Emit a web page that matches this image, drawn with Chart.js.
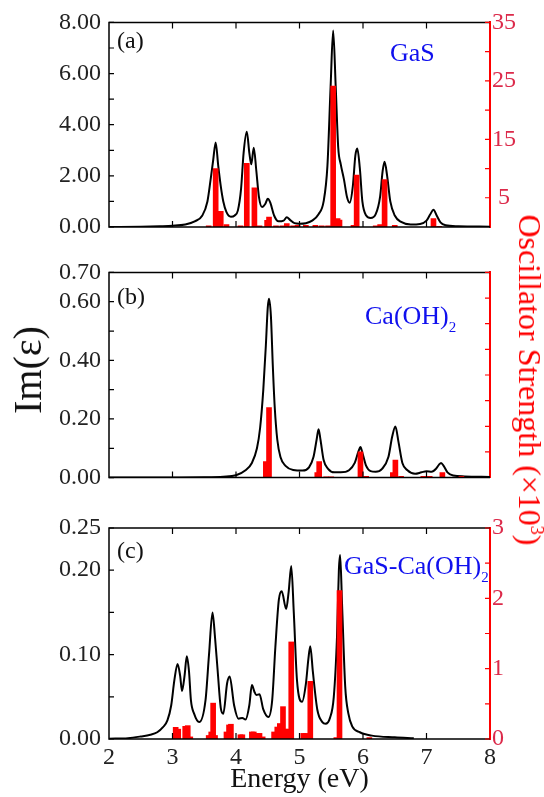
<!DOCTYPE html>
<html>
<head>
<meta charset="utf-8">
<script src="https://cdn.jsdelivr.net/npm/chart.js@4.4.1/dist/chart.umd.min.js"></script>
<style>
  html, body { margin: 0; padding: 0; background: #fff; }
  #wrap { position: relative; width: 544px; height: 797px; font-family: 'Liberation Serif', 'Times New Roman', serif; }
  canvas { position: absolute; left: 0; }
  .lbl { position: absolute; white-space: nowrap; line-height: 1; }
  .sub { font-size: 15px; position: relative; top: 8px; }
</style>
</head>
<body>
<div id="wrap">
  <canvas id="chartA" width="544" height="250" style="top:0"></canvas>
  <canvas id="chartB" width="544" height="250" style="top:250px"></canvas>
  <canvas id="chartC" width="544" height="297" style="top:500px"></canvas>

  <div class="lbl" style="left:117px; top:28px; font-size:24px; color:#111">(a)</div>
  <div class="lbl" style="left:117px; top:284px; font-size:24px; color:#111">(b)</div>
  <div class="lbl" style="left:117px; top:538px; font-size:24px; color:#111">(c)</div>

  <div class="lbl" style="left:390px; top:40px; font-size:26px; color:#1010ee">GaS</div>
  <div class="lbl" style="left:365px; top:303px; font-size:26px; color:#1010ee">Ca(OH)<span class="sub">2</span></div>
  <div class="lbl" style="left:344px; top:553px; font-size:26px; color:#1010ee">GaS-Ca(OH)<span class="sub">2</span></div>

  <div class="lbl" style="left:28px; top:370px; font-size:40px; color:#111; transform: translate(-50%, -50%) rotate(-90deg)">Im(ε)</div>
  <div class="lbl" style="left:530px; top:380px; font-size:32px; color:#ff0000; transform: translate(-50%, -50%) rotate(90deg)">Oscillator Strength (×10<sup style="font-size:18px">3</sup>)</div>
</div>

<script>
// panel (a) GaS
const energyA = [2.0, 2.5, 2.8, 3.0, 3.2, 3.35, 3.47, 3.55, 3.6, 3.64, 3.68, 3.72, 3.76, 3.8, 3.85, 3.92, 3.98, 4.03, 4.08, 4.12,
  4.17, 4.21, 4.24, 4.28, 4.32, 4.36, 4.41, 4.46, 4.5, 4.54, 4.6, 4.67, 4.75, 4.8, 4.85, 4.92, 5.0, 5.1, 5.2, 5.3,
  5.38, 5.44, 5.49, 5.53, 5.57, 5.61, 5.65, 5.7, 5.75, 5.79, 5.84, 5.88, 5.91, 5.95, 5.99, 6.05, 6.12, 6.2, 6.27, 6.31,
  6.34, 6.38, 6.43, 6.5, 6.6, 6.75, 6.9, 7.0, 7.06, 7.11, 7.16, 7.22, 7.3, 7.5, 8.0];
const imA = [0.0, 0.01, 0.03, 0.05, 0.1, 0.22, 0.45, 1.0, 1.85, 2.6, 3.3, 2.4, 1.6, 1.0, 0.58, 0.4, 0.45, 0.65, 1.5, 2.9,
  3.72, 2.9, 2.45, 3.1, 2.2, 1.2, 0.78, 0.9, 1.1, 0.95, 0.45, 0.22, 0.25, 0.38, 0.28, 0.15, 0.13, 0.15, 0.25, 0.5,
  1.0, 2.4, 5.5, 7.68, 5.5, 3.1, 2.45, 1.86, 1.15, 0.95, 1.6, 2.8, 3.07, 2.3, 1.0, 0.45, 0.35, 0.5, 1.2, 2.2,
  2.55, 2.0, 1.0, 0.45, 0.2, 0.1, 0.12, 0.25, 0.5, 0.67, 0.45, 0.18, 0.07, 0.03, 0.01];
const barEA = [3.57, 3.68, 3.76, 3.85, 4.07, 4.17, 4.29, 4.37, 4.49, 4.52, 4.63, 4.73, 4.8, 4.9, 4.97, 5.1, 5.25, 5.35, 5.45,
  5.53, 5.6, 5.63, 5.85, 5.9, 6.2, 6.27, 6.34, 6.5, 7.11, 7.2];
const oscA = [0.2, 10.0, 2.7, 0.4, 0.2, 10.9, 6.7, 0.2, 1.15, 1.7, 0.2, 0.2, 0.6, 0.2, 0.3, 0.3, 0.3, 0.2, 0.2,
  24.1, 1.45, 1.2, 0.3, 8.9, 0.2, 0.4, 8.1, 0.3, 1.45, 0.1];

// panel (b) Ca(OH)2
const energyB = [2.0, 3.0, 3.5, 3.8, 4.0, 4.15, 4.25, 4.33, 4.38, 4.43, 4.47, 4.5, 4.52, 4.55, 4.58, 4.61, 4.65, 4.7, 4.78, 4.9,
  5.05, 5.15, 5.22, 5.27, 5.3, 5.33, 5.38, 5.45, 5.55, 5.65, 5.78, 5.87, 5.93, 5.96, 5.99, 6.05, 6.12, 6.2, 6.3, 6.4,
  6.46, 6.51, 6.56, 6.62, 6.7, 6.82, 6.92, 7.0, 7.08, 7.15, 7.2, 7.23, 7.27, 7.33, 7.42, 7.6, 8.0];
const imB = [0.0, 0.0005, 0.001, 0.003, 0.008, 0.025, 0.05, 0.1, 0.17, 0.3, 0.45, 0.58, 0.61, 0.55, 0.38, 0.24, 0.13, 0.07, 0.04, 0.026,
  0.024, 0.035, 0.07, 0.13, 0.165, 0.13, 0.06, 0.03, 0.018, 0.018, 0.025, 0.05, 0.09, 0.104, 0.085, 0.04, 0.022, 0.02, 0.03, 0.07,
  0.14, 0.174, 0.12, 0.05, 0.025, 0.013, 0.018, 0.022, 0.02, 0.03, 0.045, 0.05, 0.04, 0.018, 0.007, 0.004, 0.002];
const barEB = [4.47, 4.52, 5.28, 5.31, 5.42, 5.5, 5.96, 6.05, 6.47, 6.51, 6.6, 6.95, 7.05, 7.25, 7.55];
const oscB = [0.62, 2.73, 0.2, 0.62, 0.03, 0.03, 1.0, 0.05, 0.2, 0.68, 0.05, 0.05, 0.05, 0.2, 0.05];

// panel (c) GaS-Ca(OH)2
const energyC = [2.0, 2.3, 2.5, 2.65, 2.76, 2.85, 2.92, 2.98, 3.03, 3.08, 3.12, 3.15, 3.19, 3.225, 3.26, 3.29, 3.34, 3.42, 3.52, 3.575,
  3.63, 3.67, 3.71, 3.76, 3.8, 3.86, 3.9, 3.97, 4.04, 4.1, 4.15, 4.21, 4.25, 4.29, 4.32, 4.37, 4.43, 4.51, 4.57, 4.62,
  4.675, 4.72, 4.79, 4.83, 4.87, 4.91, 4.96, 5.04, 5.1, 5.14, 5.17, 5.21, 5.28, 5.36, 5.41, 5.48, 5.54, 5.59, 5.62, 5.64,
  5.67, 5.72, 5.77, 5.83, 5.95, 6.14, 6.5, 6.8];
const imC = [0.0003, 0.001, 0.003, 0.005, 0.008, 0.014, 0.022, 0.04, 0.07, 0.089, 0.075, 0.057, 0.075, 0.098, 0.08, 0.046, 0.03, 0.02, 0.046, 0.1,
  0.15, 0.12, 0.082, 0.037, 0.03, 0.066, 0.074, 0.04, 0.024, 0.025, 0.023, 0.04, 0.064, 0.056, 0.052, 0.053, 0.035, 0.026, 0.046, 0.109,
  0.165, 0.175, 0.154, 0.175, 0.205, 0.15, 0.07, 0.044, 0.065, 0.095, 0.11, 0.08, 0.035, 0.02, 0.018, 0.025, 0.05, 0.12, 0.2, 0.218,
  0.16, 0.062, 0.03, 0.015, 0.008, 0.004, 0.002, 0.001];
const barEC = [3.05, 3.09, 3.2, 3.24, 3.28, 3.57, 3.61, 3.64, 3.67, 3.85, 3.89, 3.92, 4.07, 4.1, 4.25, 4.28, 4.33, 4.37, 4.42,
  4.6, 4.65, 4.69, 4.74, 4.78, 4.82, 4.87, 5.06, 5.1, 5.17, 5.58, 5.63, 6.1];
const oscC = [0.166, 0.14, 0.18, 0.19, 0.03, 0.05, 0.1, 0.51, 0.05, 0.1, 0.2, 0.21, 0.06, 0.06, 0.1, 0.1, 0.08, 0.08, 0.03,
  0.1, 0.17, 0.22, 0.46, 0.14, 0.14, 1.38, 0.08, 0.08, 0.82, 0.02, 2.11, 0.02];

// axis ticks
const xTicks = [3, 4, 5, 6, 7];
const leftLabelsA = [0, 2, 4, 6, 8];
const leftMinorA = [1, 3, 5, 7];
const rightTicksA = [5, 10, 15, 20, 25, 30, 35];
const rightLabelsA = [5, 15, 25, 35];
const leftLabelsB = [0, 0.2, 0.4, 0.6, 0.7];
const leftMinorB = [0.1, 0.3, 0.5];
const rightTicksB = [1, 2, 3, 4, 5, 6, 7, 8];
const rightLabelsB = [2, 4, 6, 8];
const leftLabelsC = [0, 0.1, 0.2, 0.25];
const leftMinorC = [0.05, 0.15];
const rightTicksC = [0, 0.5, 1, 1.5, 2, 2.5, 3];
const rightLabelsC = [0, 1, 2, 3];

const serif = "'Liberation Serif', 'Times New Roman', serif";

function pts(xs, ys) {
  return xs.map((x, i) => ({ x: x, y: ys[i] }));
}

// frame + inward tick marks
const framePlugin = {
  id: 'frame',
  afterDatasetsDraw(chart, args, o) {
    const { ctx, chartArea: a, scales } = chart;
    ctx.save();
    ctx.strokeStyle = '#000';
    ctx.lineWidth = 1.5;
    ctx.beginPath();
    ctx.moveTo(a.right, a.top);
    ctx.lineTo(a.left, a.top);
    ctx.lineTo(a.left, a.bottom);
    ctx.lineTo(a.right, a.bottom);
    ctx.stroke();

    ctx.lineWidth = 1.2;
    ctx.beginPath();
    o.xTicks.forEach(v => {
      const px = scales.x.getPixelForValue(v);
      ctx.moveTo(px, a.top); ctx.lineTo(px, a.top + 6);
      ctx.moveTo(px, a.bottom); ctx.lineTo(px, a.bottom - 6);
    });
    o.leftTicks.forEach(v => {
      const py = scales.y.getPixelForValue(v);
      ctx.moveTo(a.left, py); ctx.lineTo(a.left + 5, py);
    });
    ctx.stroke();

    ctx.strokeStyle = '#ff0000';
    ctx.beginPath();
    o.rightTicks.forEach(v => {
      const py = scales.y2.getPixelForValue(v);
      ctx.moveTo(a.right, py); ctx.lineTo(a.right - 5, py);
    });
    ctx.stroke();
    ctx.restore();
  }
};

function makeChart(id, cfg) {
  return new Chart(document.getElementById(id), {
    type: 'line',
    data: {
      datasets: [
        {
          type: 'bar',
          data: pts(cfg.barE, cfg.osc),
          yAxisID: 'y2',
          backgroundColor: '#ff0000',
          barThickness: 5,
          order: 0
        },
        {
          type: 'line',
          data: pts(cfg.energy, cfg.im),
          yAxisID: 'y',
          borderColor: '#000',
          borderWidth: 2,
          pointRadius: 0,
          cubicInterpolationMode: 'monotone',
          order: 1
        }
      ]
    },
    options: {
      responsive: false,
      animation: false,
      layout: { padding: { top: cfg.padTop, left: 0, right: 0, bottom: 0 } },
      plugins: {
        legend: { display: false },
        tooltip: { enabled: false },
        frame: {
          xTicks: xTicks,
          leftTicks: cfg.leftLabels.concat(cfg.leftMinor),
          rightTicks: cfg.rightTicks
        }
      },
      scales: {
        x: {
          type: 'linear',
          min: 2,
          max: 8,
          offset: false,
          grid: { display: false, drawTicks: false },
          border: { display: false },
          ticks: {
            display: cfg.showX,
            stepSize: 1,
            padding: 4,
            color: '#222',
            font: { family: serif, size: 24 }
          },
          title: {
            display: cfg.showX,
            text: 'Energy (eV)',
            color: '#111',
            padding: { top: 0, bottom: 1 },
            font: { family: serif, size: 28 }
          },
          afterFit: s => { s.height = cfg.xHeight; }
        },
        y: {
          position: 'left',
          min: 0,
          max: cfg.leftMax,
          grid: { display: false, drawTicks: false },
          border: { display: false },
          afterBuildTicks: s => { s.ticks = cfg.leftLabels.map(v => ({ value: v })); },
          ticks: {
            padding: 8,
            color: '#222',
            font: { family: serif, size: 24 },
            callback: v => v.toFixed(2)
          },
          afterFit: s => { s.width = 109; }
        },
        y2: {
          position: 'right',
          min: 0,
          max: cfg.rightMax,
          grid: { display: false, drawTicks: false },
          border: { display: true, color: '#ff0000', width: 2 },
          afterBuildTicks: s => { s.ticks = cfg.rightTicks.map(v => ({ value: v })); },
          ticks: {
            padding: 2,
            crossAlign: 'center',
            color: '#dc2a4a',
            font: { family: serif, size: 24 },
            callback: v => cfg.rightLabels.includes(v) ? String(v) : ''
          },
          afterFit: s => { s.width = 54; }
        }
      }
    },
    plugins: [framePlugin]
  });
}

makeChart('chartA', {
  energy: energyA, im: imA, barE: barEA, osc: oscA,
  leftMax: 8, leftLabels: leftLabelsA, leftMinor: leftMinorA,
  rightMax: 35, rightTicks: rightTicksA, rightLabels: rightLabelsA,
  padTop: 16, xHeight: 23, showX: false
});

makeChart('chartB', {
  energy: energyB, im: imB, barE: barEB, osc: oscB,
  leftMax: 0.7, leftLabels: leftLabelsB, leftMinor: leftMinorB,
  rightMax: 8, rightTicks: rightTicksB, rightLabels: rightLabelsB,
  padTop: 22, xHeight: 17, showX: false
});

makeChart('chartC', {
  energy: energyC, im: imC, barE: barEC, osc: oscC,
  leftMax: 0.25, leftLabels: leftLabelsC, leftMinor: leftMinorC,
  rightMax: 3, rightTicks: rightTicksC, rightLabels: rightLabelsC,
  padTop: 28, xHeight: 58, showX: true
});
</script>
</body>
</html>
